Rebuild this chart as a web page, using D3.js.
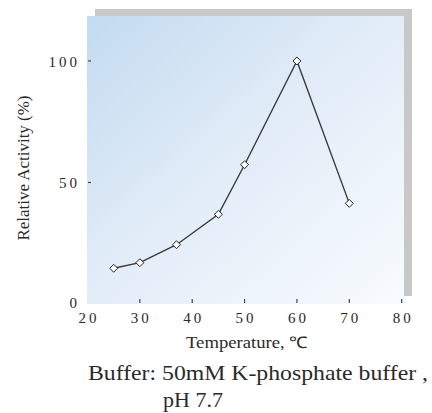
<!DOCTYPE html>
<html>
<head>
<meta charset="utf-8">
<script src="https://cdn.jsdelivr.net/npm/d3@7"></script>
<style>
  body { margin: 0; background: #fff; }
  svg text { font-family: "Liberation Serif", "Times New Roman", Times, serif; fill: #2a2a2a; }
</style>
</head>
<body>
<div id="chart"></div>
<script>
// data
const temps = [25, 30, 37, 45, 50, 60, 70];
const activity = [14.7, 17.0, 24.4, 36.9, 57.3, 100, 41.4];
const xTicks = [20, 30, 40, 50, 60, 70, 80];
const yTicks = [0, 50, 100];

const width = 432, height = 413;
const plot = { left: 87, top: 16, right: 404, bottom: 304 };

const svg = d3.select("#chart")
    .append("svg")
    .attr("width", width)
    .attr("height", height);

const x = d3.scaleLinear().domain([20, 80.45]).range([87.5, plot.right]);
const y = d3.scaleLinear().domain([0, 118.5]).range([plot.bottom, plot.top]);

// background gradient
const grad = svg.append("defs").append("linearGradient")
    .attr("id", "bg")
    .attr("x1", "0%").attr("y1", "0%")
    .attr("x2", "100%").attr("y2", "100%");
grad.append("stop").attr("offset", "0%").attr("stop-color", "#c3dbf0");
grad.append("stop").attr("offset", "50%").attr("stop-color", "#e3edf8");
grad.append("stop").attr("offset", "100%").attr("stop-color", "#f8fbfe");

// grey shadow behind plot area
svg.append("rect")
    .attr("x", plot.left + 8)
    .attr("y", plot.top - 7)
    .attr("width", plot.right - plot.left)
    .attr("height", plot.bottom - plot.top - 1)
    .attr("fill", "#c8c8c8");

svg.append("rect")
    .attr("x", plot.left)
    .attr("y", plot.top)
    .attr("width", plot.right - plot.left)
    .attr("height", plot.bottom - plot.top)
    .attr("fill", "url(#bg)");

// x ticks (short marks just inside bottom edge)
svg.append("g")
    .selectAll("line")
    .data(xTicks.slice(1))
    .join("line")
    .attr("x1", d => x(d)).attr("x2", d => x(d))
    .attr("y1", plot.bottom - 5).attr("y2", plot.bottom - 1)
    .attr("stroke", "#444")
    .attr("stroke-width", 1.2);

svg.append("g")
    .selectAll("text")
    .data(xTicks)
    .join("text")
    .attr("x", d => x(d) + 1.5)
    .attr("y", 323)
    .attr("text-anchor", "middle")
    .attr("font-size", 15)
    .attr("letter-spacing", 3)
    .text(d => d);

// y ticks
svg.append("g")
    .selectAll("line")
    .data(yTicks.filter(d => d > 0))
    .join("line")
    .attr("x1", plot.left + 1).attr("x2", plot.left + 4)
    .attr("y1", d => y(d)).attr("y2", d => y(d))
    .attr("stroke", "#444")
    .attr("stroke-width", 1.2);

svg.append("g")
    .selectAll("text")
    .data(yTicks)
    .join("text")
    .attr("x", 80)
    .attr("y", d => d === 0 ? y(d) + 4 : y(d) + 6)
    .attr("text-anchor", "end")
    .attr("font-size", 15)
    .attr("letter-spacing", 3)
    .text(d => d);

// line + diamond markers
const line = d3.line()
    .x((d, i) => x(temps[i]))
    .y(d => y(d));

svg.append("path")
    .datum(activity)
    .attr("d", line)
    .attr("fill", "none")
    .attr("stroke", "#3a3a3a")
    .attr("stroke-width", 1.4);

svg.append("g")
    .selectAll("path")
    .data(activity)
    .join("path")
    .attr("d", d3.symbol().type(d3.symbolDiamond2).size(40))
    .attr("transform", (d, i) => `translate(${x(temps[i])},${y(d)})`)
    .attr("fill", "#fff")
    .attr("stroke", "#222")
    .attr("stroke-width", 1);

// axis titles
svg.append("text")
    .attr("transform", "translate(29,168) rotate(-90)")
    .attr("text-anchor", "middle")
    .attr("font-size", 16)
    .attr("textLength", 145)
    .attr("lengthAdjust", "spacingAndGlyphs")
    .text("Relative Activity (%)");

svg.append("text")
    .attr("x", 186)
    .attr("y", 348)
    .attr("font-size", 16)
    .attr("textLength", 122)
    .attr("lengthAdjust", "spacingAndGlyphs")
    .text("Temperature, ℃");

// note below the chart
svg.append("text")
    .attr("x", 88)
    .attr("y", 380)
    .attr("font-size", 22)
    .attr("textLength", 340)
    .attr("lengthAdjust", "spacingAndGlyphs")
    .text("Buffer: 50mM K-phosphate buffer ,");

svg.append("text")
    .attr("x", 163)
    .attr("y", 407)
    .attr("font-size", 22)
    .text("pH 7.7");
</script>
</body>
</html>
